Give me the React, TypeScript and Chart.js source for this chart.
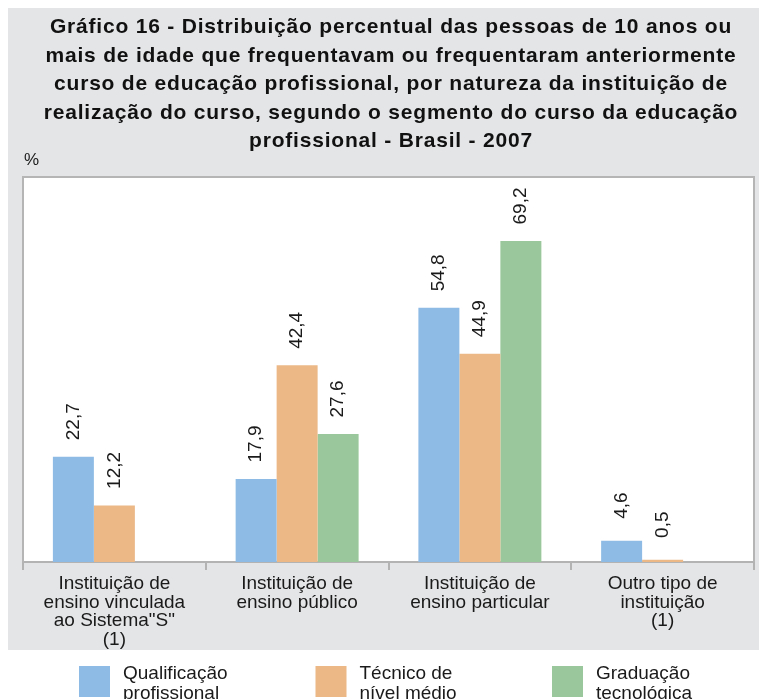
import React, { useEffect, useRef } from "react";
import { Chart, registerables } from "chart.js";

Chart.register(...registerables);

const categories: string[][] = [
  ["Instituição de", "ensino vinculada", "ao Sistema\"S\"", "(1)"],
  ["Instituição de", "ensino público"],
  ["Instituição de", "ensino particular"],
  ["Outro tipo de", "instituição", "(1)"],
];

const qualificacao: (number | null)[] = [22.7, 17.9, 54.8, 4.6];
const tecnico: (number | null)[] = [12.2, 42.4, 44.9, 0.5];
const graduacao: (number | null)[] = [null, 27.6, 69.2, null];

const seriesNames: string[][] = [
  ["Qualificação", "profissional"],
  ["Técnico de", "nível médio"],
  ["Graduação", "tecnológica"],
];

const titleLines: string[] = [
  "Gráfico 16 - Distribuição percentual das pessoas de 10 anos ou",
  "mais de idade que frequentavam ou frequentaram anteriormente",
  "curso de educação profissional, por natureza da instituição de",
  "realização do curso, segundo o segmento do curso da educação",
  "profissional - Brasil - 2007",
];

const colors = ["#8ebbe5", "#ebb886", "#9ac89c"];
const FONT = "'Liberation Sans', Arial, sans-serif";

const fmt = (v: number) => v.toFixed(1).replace(".", ",");

const bgPlugin = {
  id: "bgPlugin",
  beforeDraw(chart: any) {
    const { ctx, scales } = chart;
    const xs = scales.x;
    ctx.save();
    ctx.fillStyle = "#e4e5e7";
    ctx.fillRect(0, 0, chart.width, xs.bottom);
    ctx.fillStyle = "#ffffff";
    const a = chart.chartArea;
    ctx.fillRect(a.left, a.top, a.right - a.left, a.bottom - a.top);
    ctx.restore();
  },
  afterDraw(chart: any) {
    const { ctx } = chart;
    const a = chart.chartArea;
    ctx.save();
    // title
    ctx.fillStyle = "#111111";
    ctx.font = `bold 21px ${FONT}`;
    ctx.textAlign = "center";
    ctx.textBaseline = "alphabetic";
    try {
      (ctx as any).letterSpacing = "0.8px";
    } catch (e) {}
    titleLines.forEach((ln, i) => {
      ctx.fillText(ln, 383, 25 + i * 28.5);
    });
    try {
      (ctx as any).letterSpacing = "0px";
    } catch (e) {}

    // plot frame (top, left, right)
    ctx.strokeStyle = "#b5b5b5";
    ctx.lineWidth = 2;
    ctx.beginPath();
    ctx.moveTo(a.left, a.bottom);
    ctx.lineTo(a.left, a.top);
    ctx.lineTo(a.right, a.top);
    ctx.lineTo(a.right, a.bottom);
    ctx.stroke();
    // % label
    ctx.fillStyle = "#1a1a1a";
    ctx.font = `17px ${FONT}`;
    ctx.textAlign = "left";
    ctx.textBaseline = "alphabetic";
    ctx.fillText("%", a.left + 1, a.top - 12);

    // value labels
    ctx.font = `19px ${FONT}`;
    ctx.textAlign = "center";
    ctx.textBaseline = "middle";
    chart.data.datasets.forEach((ds: any, di: number) => {
      const meta = chart.getDatasetMeta(di);
      meta.data.forEach((bar: any, i: number) => {
        const v = ds.data[i];
        if (v === null || v === undefined) return;
        ctx.save();
        ctx.translate(bar.x, bar.y - 35);
        ctx.rotate(-Math.PI / 2);
        ctx.fillText(fmt(v), 0, 0);
        ctx.restore();
      });
    });

    // legend
    const xs = chart.scales.x;
    const legendTop = xs.bottom + 16;
    const startX = 71;
    const step = 236.5;
    ctx.textAlign = "left";
    ctx.textBaseline = "alphabetic";
    ctx.font = `19px ${FONT}`;
    chart.data.datasets.forEach((ds: any, di: number) => {
      const bx = startX + di * step;
      ctx.fillStyle = ds.backgroundColor;
      ctx.fillRect(bx, legendTop, 31, 31);
      ctx.fillStyle = "#1a1a1a";
      const lines: string[] = seriesNames[di];
      lines.forEach((ln, li) => {
        ctx.fillText(ln, bx + 44, legendTop + 13 + li * 19.5);
      });
    });
    ctx.restore();
  },
};

export default function App() {
  const ref = useRef<HTMLCanvasElement>(null);
  useEffect(() => {
    const c = ref.current;
    if (!c) return;
    const chart = new Chart(c, {
      type: "bar",
      data: {
        labels: categories,
        datasets: [
          { label: seriesNames[0].join(" "), data: qualificacao, backgroundColor: colors[0] },
          { label: seriesNames[1].join(" "), data: tecnico, backgroundColor: colors[1] },
          { label: seriesNames[2].join(" "), data: graduacao, backgroundColor: colors[2] },
        ],
      },
      options: {
        responsive: false,
        animation: false,
        devicePixelRatio: 1,
        layout: { padding: { left: 15, right: 5, top: 169, bottom: 49 } },
        datasets: { bar: { categoryPercentage: 0.673, barPercentage: 1 } },
        plugins: {
          legend: { display: false },
          tooltip: { enabled: false },
          title: { display: false },
        },
        scales: {
          x: {
            grid: {
              offset: true,
              drawOnChartArea: false,
              drawTicks: true,
              tickLength: 8,
              color: "#b3b3b3",
              lineWidth: 2,
            },
            border: { display: true, color: "#b3b3b3", width: 2 },
            ticks: {
              color: "#1a1a1a",
              padding: 5,
              maxRotation: 0,
              autoSkip: false,
              font: { family: FONT, size: 19, lineHeight: "18.5px" },
            },
            afterFit: (scale: any) => {
              scale.height = 88;
            },
          },
          y: {
            display: false,
            min: 0,
            max: 83,
          },
        },
      },
      plugins: [bgPlugin],
    });
    return () => chart.destroy();
  }, []);
  return (
    <div style={{ position: "absolute", left: 8, top: 8, width: 751, height: 691, overflow: "hidden" }}>
      <canvas ref={ref} width={751} height={691} style={{ display: "block", width: 751, height: 691 }} />
    </div>
  );
}
